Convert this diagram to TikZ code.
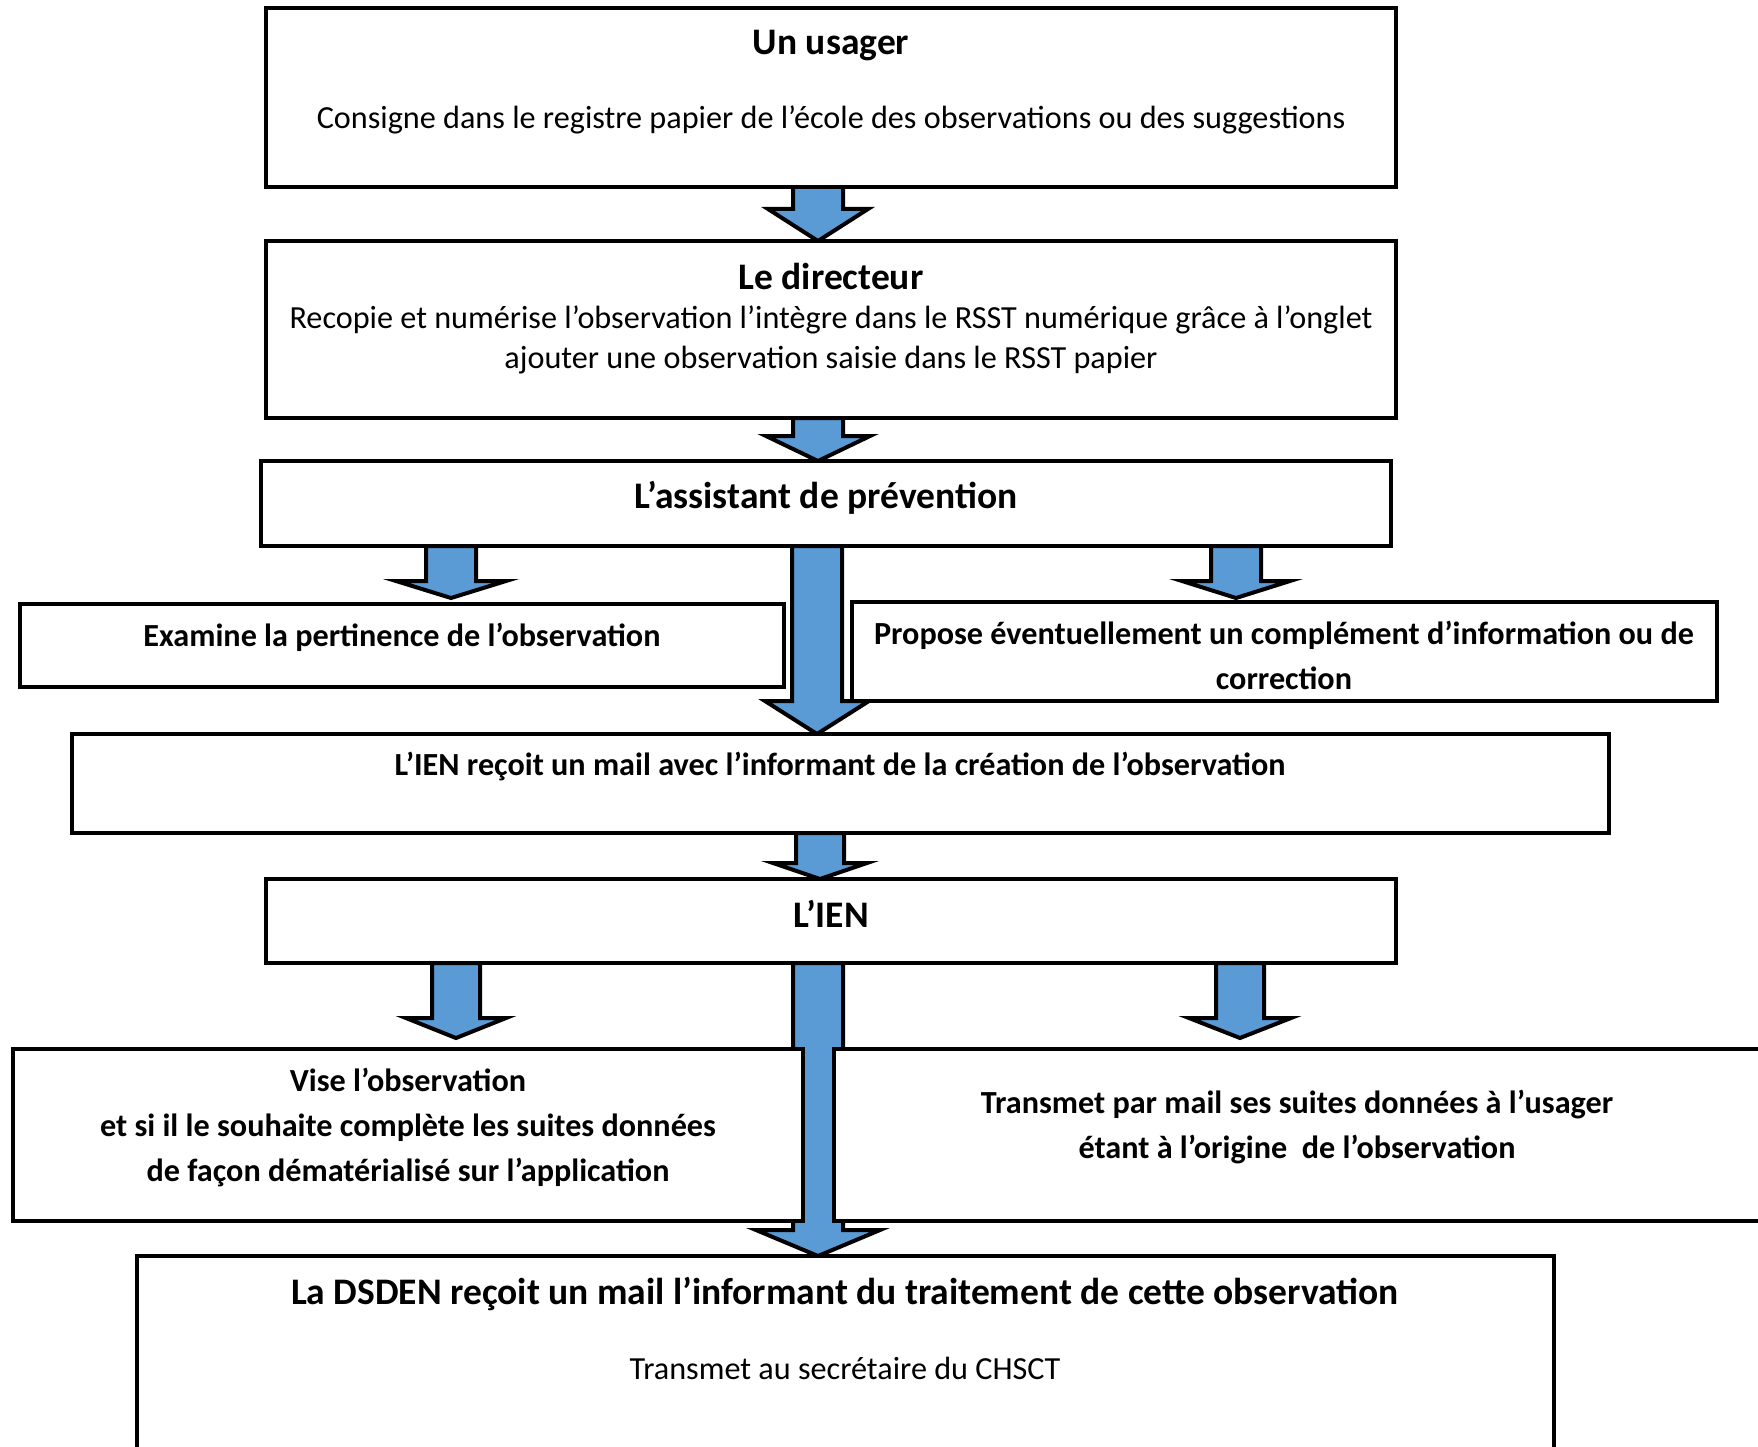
\documentclass[tikz,border=0pt]{standalone}
\usepackage{fontspec}
\setmainfont{Carlito}
\usetikzlibrary{calc}
\definecolor{arrowblue}{HTML}{5B9BD5}
\pgfdeclarelayer{bg}
\pgfsetlayers{bg,main}
\tikzset{
  box/.style={draw=black, line width=4.5pt, fill=white, inner sep=0pt, outer sep=0pt, anchor=north west},
  barrow/.style={draw=black, line width=4pt, fill=arrowblue, line join=miter},
  txt/.style={inner sep=0pt, align=center, text=black},
  ttl/.style={txt, font=\bfseries\fontsize{37.5}{44}\selectfont},
  bod/.style={txt, font=\bfseries\fontsize{32.2}{45}\selectfont},
  reg/.style={txt, font=\fontsize{32.2}{39.5}\selectfont},
}
% #1 x, #2 source, #3 target, #4 shaft half width, #5 head half width,
% #6 head base above target top, #7 tip gap above target top
\newcommand\blockarrow[7]{%
  \draw[barrow] let \p1=(#2.south), \p2=(#3.north) in
    (#1pt-#4pt,\y1) -- (#1pt+#4pt,\y1) -- (#1pt+#4pt,\y2+#6pt) -- (#1pt+#5pt,\y2+#6pt)
    -- (#1pt,\y2+#7pt) -- (#1pt-#5pt,\y2+#6pt) -- (#1pt-#4pt,\y2+#6pt) -- cycle;}
\begin{document}
\begin{tikzpicture}[x=1pt,y=-1pt]
\useasboundingbox (0,0) rectangle (1758,1447);
% boxes
\node[box, minimum width=1130pt, minimum height=179pt] (usager) at (266,8) {};
\node[box, minimum width=1130pt, minimum height=177pt] (directeur) at (266,241) {};
\node[box, minimum width=1130pt, minimum height=85pt] (assistant) at (261,461) {};
\node[box, minimum width=764pt, minimum height=83pt] (examine) at (20,604) {};
\node[box, minimum width=865pt, minimum height=99pt] (propose) at (852,602) {};
\node[box, minimum width=1537pt, minimum height=99pt] (ienmail) at (72,734) {};
\node[box, minimum width=1130pt, minimum height=84pt] (ien) at (266,879) {};
\node[box, minimum width=790pt, minimum height=172pt] (vise) at (13,1049) {};
\node[box, minimum width=928pt, minimum height=172pt] (transmet) at (834,1049) {};
\node[box, minimum width=1417pt, minimum height=200pt] (dsden) at (137,1256) {};
% texts
\node[ttl] (t1) at (831,46) {Un usager};
\node[reg] (t1b) at (831,120) {Consigne dans le registre papier de l’école des observations ou des suggestions};
\node[ttl] (t2) at (831,276) {Le directeur};
\node[reg] (t2b) at (831,340) {Recopie et numérise l’observation l’intègre dans le RSST numérique grâce à l’onglet\\ ajouter une observation saisie dans le RSST papier};
\node[ttl] (t3) at (826,498) {L’assistant de prévention};
\node[bod] (t4) at (402,637) {Examine la pertinence de l’observation};
\node[bod] (t5) at (1284,655) {Propose éventuellement un complément d’information ou de\\ correction};
\node[bod] (t6) at (840,766) {L’IEN reçoit un mail avec l’informant de la création de l’observation};
\node[ttl] (t7) at (831,914) {L’IEN};
\node[bod] (t8) at (408,1127) {Vise l’observation\\ et si il le souhaite complète les suites données\\ de façon dématérialisé sur l’application};
\node[bod] (t9) at (1297,1127) {Transmet par mail ses suites données à l’usager\\ étant à l’origine\ \ de l’observation};
\node[ttl] (t10) at (845,1294) {La DSDEN reçoit un mail l’informant du traitement de cette observation};
\node[reg] (t10b) at (845,1368) {Transmet au secrétaire du CHSCT};
% arrows behind the boxes
\begin{pgfonlayer}{bg}
\fill[white] (0,0) rectangle (1758,1447);
\blockarrow{818}{usager}{directeur}{25}{50}{32}{0}
\blockarrow{818}{directeur}{assistant}{25}{52}{25}{0}
\blockarrow{451}{assistant}{examine}{25}{55}{23}{6}
\blockarrow{817}{assistant}{ienmail}{25}{52}{33}{0}
\blockarrow{1236}{assistant}{propose}{25}{54}{21}{4}
\blockarrow{820}{ienmail}{ien}{24}{47}{16}{0}
\blockarrow{456}{ien}{vise}{24}{50}{31}{11}
\blockarrow{818}{ien}{dsden}{25}{62}{26}{0}
\blockarrow{1240}{ien}{transmet}{24}{51}{31}{11}
\end{pgfonlayer}
\end{tikzpicture}
\end{document}
